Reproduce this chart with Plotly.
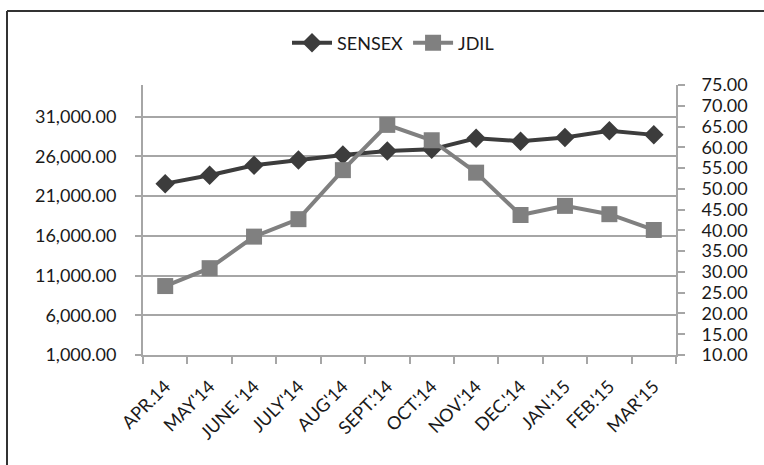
import plotly.graph_objects as go

months = ["APR.14", "MAY'14", "JUNE '14", "JULY'14", "AUG'14", "SEPT.'14",
          "OCT.'14", "NOV.'14", "DEC.'14", "JAN.'15", "FEB.'15", "MAR'15"]
sensex = [22580, 23630, 24890, 25560, 26190, 26700, 26900, 28300, 27920, 28390, 29230, 28720]
jdil = [26.6, 30.9, 38.5, 42.7, 54.5, 65.4, 61.7, 53.9, 43.7, 45.9, 43.9, 40.1]

W, H = 764, 465
L, R, T, B = 143, 676, 85, 355

def px(x):
    return (x - L) / (R - L)

def py(y):
    return (B - y) / (B - T)

fig = go.Figure()
fig.add_trace(go.Scatter(x=months, y=sensex, name="SENSEX", mode="lines+markers",
                         line=dict(color="#3c3c3c", width=4),
                         marker=dict(symbol="diamond", size=15, color="#3c3c3c"),
                         yaxis="y"))
fig.add_trace(go.Scatter(x=months, y=jdil, name="JDIL", mode="lines+markers",
                         line=dict(color="#808080", width=4),
                         marker=dict(symbol="square", size=16, color="#808080"),
                         yaxis="y2"))

font_fam = "Lato, 'Open Sans', sans-serif"
axcol = "#a6a6a6"
fig.update_layout(
    width=W, height=H,
    margin=dict(l=L, r=W - R, t=T, b=H - B, pad=0),
    paper_bgcolor="white", plot_bgcolor="white",
    font=dict(family=font_fam, size=18, color="#1a1a1a"),
    showlegend=True,
    legend=dict(orientation="h", x=px(393), xanchor="center", y=py(43), yanchor="middle",
                font=dict(size=18), itemwidth=40, tracegroupgap=0),
    xaxis=dict(type="category", range=[-0.5, len(months) - 0.5],
               showline=True, linecolor=axcol, linewidth=2,
               ticks="outside", tickson="boundaries", ticklen=7, tickcolor=axcol,
               tickwidth=2, tickangle=-45, tickfont=dict(size=18),
               ticklabelstandoff=12,
               showgrid=False, zeroline=False),
    yaxis=dict(range=[1000, 35000], tick0=1000, dtick=5000, tickformat=",.2f",
               showline=True, linecolor=axcol, linewidth=2,
               ticks="outside", ticklen=6, tickcolor=axcol, tickwidth=2,
               ticklabelstandoff=15,
               showgrid=True, gridcolor=axcol, gridwidth=2, zeroline=False,
               tickfont=dict(size=18)),
    yaxis2=dict(range=[10, 75], tick0=10, dtick=5, tickformat=".2f", overlaying="y",
                side="right", showline=True, linecolor=axcol, linewidth=2,
                ticks="outside", ticklen=7, tickcolor=axcol, tickwidth=2,
                ticklabelstandoff=13,
                showgrid=False, zeroline=False, tickfont=dict(size=18)),
)

# outer chart border (top and left edges visible)
fig.add_shape(type="line", xref="paper", yref="paper",
              x0=px(7), x1=px(780), y0=py(11), y1=py(11),
              line=dict(color="#333333", width=2))
fig.add_shape(type="line", xref="paper", yref="paper",
              x0=px(7), x1=px(7), y0=py(11), y1=py(480),
              line=dict(color="#333333", width=2))

fig.write_html("out.html", config={"displayModeBar": False},
               post_script="document.body.style.margin='0';")
